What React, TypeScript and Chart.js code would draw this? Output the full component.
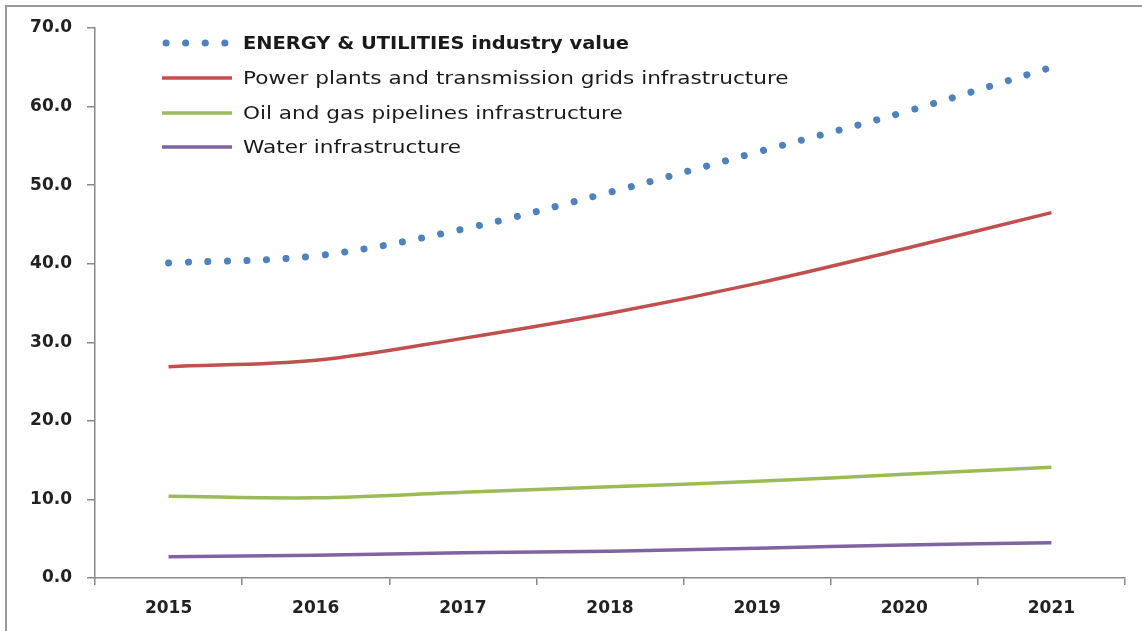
import React, { useEffect, useRef } from "react";
import { Chart, registerables } from "chart.js";

Chart.register(...registerables);

const years = ["2015", "2016", "2017", "2018", "2019", "2020", "2021"];
const seriesNames = [
  "ENERGY & UTILITIES industry value",
  "Power plants and transmission grids infrastructure",
  "Oil and gas pipelines infrastructure",
  "Water infrastructure",
];
const energyValues = [40.1, 41.0, 44.4, 49.1, 54.2, 59.3, 65.0];
const powerValues = [26.9, 27.7, 30.5, 33.7, 37.5, 41.9, 46.5];
const oilGasValues = [10.4, 10.2, 10.9, 11.6, 12.3, 13.2, 14.1];
const waterValues = [2.7, 2.9, 3.2, 3.4, 3.8, 4.2, 4.5];
const seriesColors = ["#4F81BD", "#C0504D", "#9BBB59", "#8064A2"];

const FONT = "'DejaVu Sans', sans-serif";

// Legend drawn inside the plot area, stacked at the top-left
const insideLegend = {
  id: "insideLegend",
  afterDraw(chart: any) {
    const ctx = chart.ctx;
    const x0 = 162;
    const sampleW = 70;
    const textX = 243;
    const rowY = [43, 78, 113, 147];
    ctx.save();
    chart.data.datasets.forEach((ds: any, i: number) => {
      const y = rowY[i];
      ctx.strokeStyle = ds.borderColor;
      ctx.lineWidth = ds.borderWidth;
      ctx.lineCap = ds.borderCapStyle || "butt";
      ctx.setLineDash(ds.borderDash || []);
      ctx.beginPath();
      ctx.moveTo(x0 + (i === 0 ? 4 : 0), y);
      ctx.lineTo(x0 + sampleW, y);
      ctx.stroke();
      ctx.setLineDash([]);

      // wide legend lettering: stretch horizontally
      const bold = i === 0;
      ctx.save();
      ctx.translate(textX, y + 1);
      ctx.scale(bold ? 1.08 : 1.2, 1);
      ctx.fillStyle = "#1a1a1a";
      ctx.font = (bold ? "bold " : "") + "18px " + FONT;
      ctx.textBaseline = "middle";
      ctx.textAlign = "left";
      ctx.fillText(ds.label, 0, 0);
      ctx.restore();
    });
    ctx.restore();
  },
};

export default function App() {
  const ref = useRef<HTMLCanvasElement>(null);

  useEffect(() => {
    document.body.style.margin = "0";
    const valueLists = [energyValues, powerValues, oilGasValues, waterValues];
    const chart = new Chart(ref.current!, {
      type: "line",
      data: {
        labels: years,
        datasets: valueLists.map((vals, i) => ({
          label: seriesNames[i],
          data: vals,
          borderColor: seriesColors[i],
          backgroundColor: seriesColors[i],
          borderWidth: i === 0 ? 7 : 3.5,
          borderDash: i === 0 ? [0.1, 19.5] : undefined,
          borderCapStyle: i === 0 ? "round" : "butt",
          pointRadius: 0,
          tension: 0.35,
          fill: false,
        })),
      },
      options: {
        animation: false,
        responsive: false,
        maintainAspectRatio: false,
        layout: { padding: { left: 0, right: 17, top: 28, bottom: 0 } },
        plugins: {
          legend: { display: false },
          tooltip: { enabled: false },
        },
        scales: {
          x: {
            offset: true,
            afterFit: (s: any) => {
              s.height = 53;
            },
            grid: {
              offset: true,
              drawOnChartArea: false,
              drawTicks: true,
              tickLength: 7,
              color: "#888",
              lineWidth: 1.5,
            },
            border: { color: "#888", width: 1.5 },
            ticks: {
              color: "#222",
              padding: 13,
              font: { family: FONT, size: 17, weight: "bold" },
            },
          },
          y: {
            min: 0,
            max: 70,
            afterFit: (s: any) => {
              s.width = 95;
            },
            grid: {
              drawOnChartArea: false,
              drawTicks: true,
              tickLength: 8,
              color: "#888",
              lineWidth: 1.5,
            },
            border: { color: "#888", width: 1.5 },
            ticks: {
              stepSize: 10,
              color: "#222",
              padding: 15,
              font: { family: FONT, size: 17, weight: "bold" },
              callback: (v: any) => Number(v).toFixed(1),
            },
          },
        },
      },
      plugins: [insideLegend],
    });
    return () => chart.destroy();
  }, []);

  return (
    <div style={{ position: "relative", width: 1142, height: 631, overflow: "hidden", background: "#fff" }}>
      <div
        style={{
          position: "absolute",
          left: 5,
          top: 5,
          width: 1200,
          height: 700,
          borderLeft: "2px solid #999",
          borderTop: "2px solid #999",
        }}
      />
      <canvas ref={ref} width={1142} height={631} style={{ position: "absolute", left: 0, top: 0 }} />
    </div>
  );
}
